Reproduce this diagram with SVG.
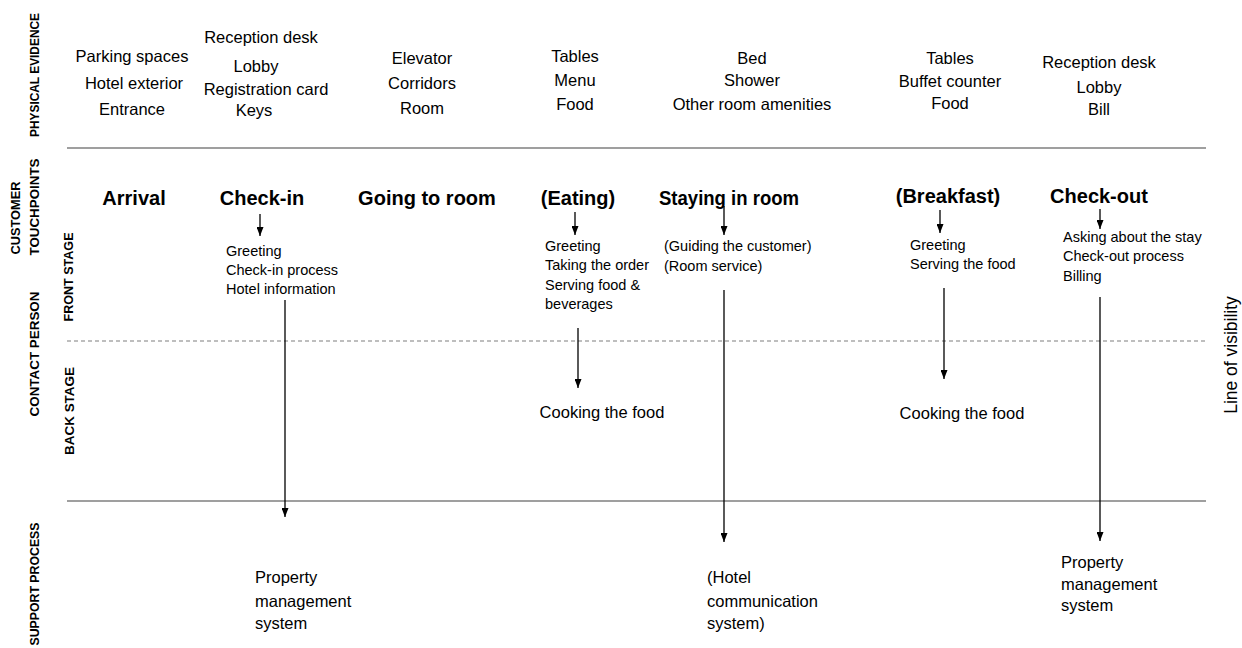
<svg xmlns="http://www.w3.org/2000/svg" width="1242" height="648" viewBox="0 0 1242 648">
<style>
text{font-family:"Liberation Sans",Arial,sans-serif;fill:#000}
.lane{font-size:13px;font-weight:bold;text-anchor:middle}
.pe{font-size:16.5px;text-anchor:middle}
.title{font-size:20px;font-weight:bold;text-anchor:middle}
.small{font-size:14.5px}
.body{font-size:16.5px}
.rule{stroke:#7f7f7f;stroke-width:1.5;fill:none}
.dash{stroke:#7f7f7f;stroke-width:1.2;stroke-dasharray:4 3;fill:none}
.arrow{stroke:#000;stroke-width:1.3;fill:none;marker-end:url(#ah)}
</style>
<defs>
<marker id="ah" markerUnits="userSpaceOnUse" markerWidth="9" markerHeight="7" refX="9" refY="3.5" orient="auto" viewBox="0 0 9 7">
<path d="M0,0 L9,3.5 L0,7 z" fill="#000"/>
</marker>
</defs>
<rect width="1242" height="648" fill="#fff"/>

<g id="lanes">
<text class="lane" transform="translate(39 75) rotate(-90)" textLength="124" lengthAdjust="spacingAndGlyphs">PHYSICAL EVIDENCE</text>
<text class="lane" transform="translate(20 218) rotate(-90)" textLength="73" lengthAdjust="spacingAndGlyphs">CUSTOMER</text>
<text class="lane" transform="translate(39 207) rotate(-90)" textLength="97" lengthAdjust="spacingAndGlyphs">TOUCHPOINTS</text>
<text class="lane" transform="translate(39 354) rotate(-90)" textLength="125" lengthAdjust="spacingAndGlyphs">CONTACT PERSON</text>
<text class="lane" transform="translate(73 277) rotate(-90)" textLength="89" lengthAdjust="spacingAndGlyphs">FRONT STAGE</text>
<text class="lane" transform="translate(74 411) rotate(-90)" textLength="88" lengthAdjust="spacingAndGlyphs">BACK STAGE</text>
<text class="lane" transform="translate(39 584) rotate(-90)" textLength="123" lengthAdjust="spacingAndGlyphs">SUPPORT PROCESS</text>
<text class="body" style="font-size:17.5px" transform="translate(1237 355) rotate(-90)" text-anchor="middle">Line of visibility</text>
</g>

<g id="separators">
<line class="rule" x1="67" y1="148" x2="1206" y2="148"/>
<line class="dash" x1="67" y1="341" x2="1206" y2="341"/>
<line class="rule" x1="67" y1="501" x2="1206" y2="501"/>
</g>

<g id="evidence-arrival">
<text class="pe" x="132" y="62">Parking spaces</text>
<text class="pe" x="134" y="89">Hotel exterior</text>
<text class="pe" x="132" y="115">Entrance</text>
</g>
<g id="evidence-checkin">
<text class="pe" x="261" y="43">Reception desk</text>
<text class="pe" x="256" y="72">Lobby</text>
<text class="pe" x="266" y="95">Registration card</text>
<text class="pe" x="254" y="116">Keys</text>
</g>
<g id="evidence-room">
<text class="pe" x="422" y="64">Elevator</text>
<text class="pe" x="422" y="89">Corridors</text>
<text class="pe" x="422" y="114">Room</text>
</g>
<g id="evidence-eating">
<text class="pe" x="575" y="62">Tables</text>
<text class="pe" x="575" y="86">Menu</text>
<text class="pe" x="575" y="110">Food</text>
</g>
<g id="evidence-staying">
<text class="pe" x="752" y="64">Bed</text>
<text class="pe" x="752" y="86">Shower</text>
<text class="pe" x="752" y="110">Other room amenities</text>
</g>
<g id="evidence-breakfast">
<text class="pe" x="950" y="64">Tables</text>
<text class="pe" x="950" y="87">Buffet counter</text>
<text class="pe" x="950" y="109">Food</text>
</g>
<g id="evidence-checkout">
<text class="pe" x="1099" y="68">Reception desk</text>
<text class="pe" x="1099" y="93">Lobby</text>
<text class="pe" x="1099" y="115">Bill</text>
</g>

<g id="arrival"><text class="title" x="134" y="205">Arrival</text></g>
<g id="checkin">
<text class="title" x="262" y="205">Check-in</text>
<text class="small"><tspan x="226" y="256">Greeting</tspan><tspan x="226" y="275">Check-in process</tspan><tspan x="226" y="294">Hotel information</tspan></text>
</g>
<g id="going-to-room"><text class="title" x="427" y="205">Going to room</text></g>
<g id="eating">
<text class="title" x="578" y="205">(Eating)</text>
<text class="small"><tspan x="545" y="251">Greeting</tspan><tspan x="545" y="270">Taking the order</tspan><tspan x="545" y="290">Serving food &amp;</tspan><tspan x="545" y="309">beverages</tspan></text>
</g>
<g id="staying">
<text class="title" x="729" y="205" textLength="140" lengthAdjust="spacingAndGlyphs">Staying in room</text>
<text class="small"><tspan x="664" y="251">(Guiding the customer)</tspan><tspan x="664" y="271">(Room service)</tspan></text>
</g>
<g id="breakfast">
<text class="title" x="948" y="203">(Breakfast)</text>
<text class="small"><tspan x="910" y="250">Greeting</tspan><tspan x="910" y="269">Serving the food</tspan></text>
</g>
<g id="checkout">
<text class="title" x="1099" y="203">Check-out</text>
<text class="small"><tspan x="1063" y="242">Asking about the stay</tspan><tspan x="1063" y="261">Check-out process</tspan><tspan x="1063" y="281">Billing</tspan></text>
</g>

<g id="cooking-eating"><text class="body" x="602" y="418" text-anchor="middle">Cooking the food</text></g>
<g id="cooking-breakfast"><text class="body" x="962" y="419" text-anchor="middle">Cooking the food</text></g>

<g id="support-checkin"><text class="body"><tspan x="255" y="583">Property</tspan><tspan x="255" y="607">management</tspan><tspan x="255" y="629">system</tspan></text></g>
<g id="support-staying"><text class="body"><tspan x="707" y="583">(Hotel</tspan><tspan x="707" y="607">communication</tspan><tspan x="707" y="629">system)</tspan></text></g>
<g id="support-checkout"><text class="body"><tspan x="1061" y="568">Property</tspan><tspan x="1061" y="590">management</tspan><tspan x="1061" y="611">system</tspan></text></g>

<g id="connectors">
<line class="arrow" x1="260" y1="214" x2="260" y2="236"/>
<line class="arrow" x1="575" y1="212" x2="575" y2="235"/>
<line class="arrow" x1="724" y1="206" x2="724" y2="235"/>
<line class="arrow" x1="940" y1="210" x2="940" y2="233"/>
<line class="arrow" x1="1100" y1="209" x2="1100" y2="229"/>
<line class="arrow" x1="285" y1="300" x2="285" y2="517"/>
<line class="arrow" x1="578" y1="328" x2="578" y2="388"/>
<line class="arrow" x1="724" y1="290" x2="724" y2="542"/>
<line class="arrow" x1="944" y1="288" x2="944" y2="379"/>
<line class="arrow" x1="1100" y1="297" x2="1100" y2="541"/>
</g>
</svg>
